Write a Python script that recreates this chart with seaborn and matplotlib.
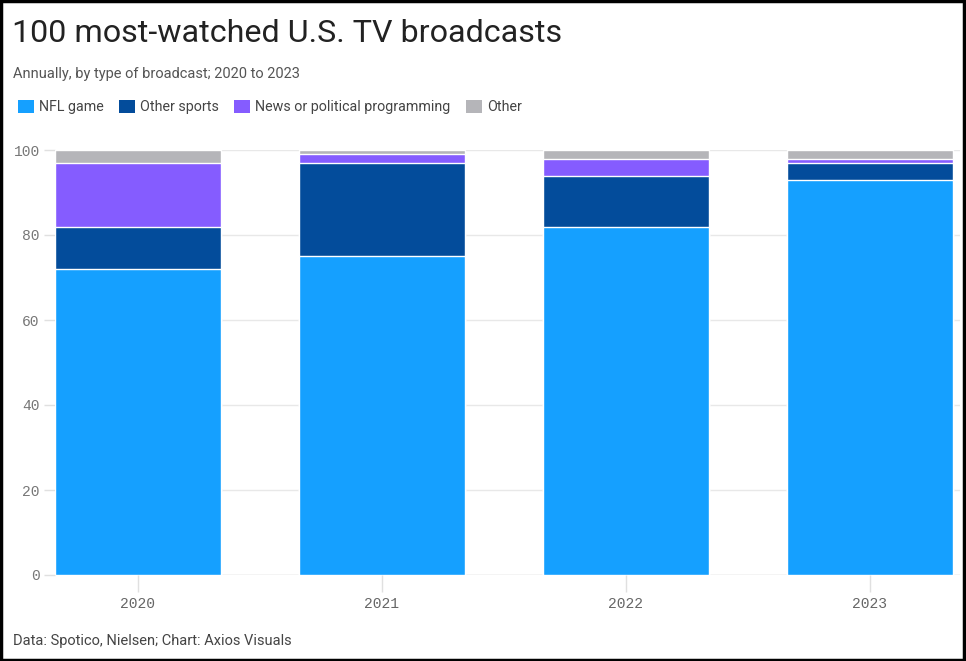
import matplotlib
matplotlib.use("Agg")
import matplotlib.pyplot as plt
import seaborn as sns
import pandas as pd
import numpy as np
from matplotlib.patches import Patch, Rectangle

years = ["2020", "2021", "2022", "2023"]
nfl_game = [72, 75, 82, 93]
other_sports = [10, 22, 12, 4]
news_political = [15, 2, 4, 1]
other = [3, 1, 2, 2]

series_names = ["NFL game", "Other sports", "News or political programming", "Other"]
colors = ["#15a0ff", "#034c9b", "#855cff", "#b5b5b9"]

sns.set_theme(style="white")
plt.rcParams["font.family"] = ["Roboto", "DejaVu Sans"]

df = pd.DataFrame({
    "year": years,
    "NFL game": nfl_game,
    "Other sports": other_sports,
    "News or political programming": news_political,
    "Other": other,
})
cum = df[series_names].cumsum(axis=1)

fig = plt.figure(figsize=(9.66, 6.61), dpi=100)
ax = fig.add_axes([55 / 966, 1 - 575 / 661, (960 - 55) / 966, (575 - 150) / 661])

for name, col in reversed(list(zip(series_names, colors))):
    sns.barplot(data=pd.DataFrame({"year": years, "v": cum[name]}), x="year", y="v",
                color=col, width=0.68, edgecolor="white", linewidth=1.0,
                saturation=1, ax=ax, zorder=3)

ax.set_ylim(0, 100)
ax.set_xlim(-0.34, 3.37)
ax.set_yticks([0, 20, 40, 60, 80, 100])
ax.grid(axis="y", color="#e8e8e8", linewidth=1, zorder=0)
ax.grid(axis="x", visible=False)
for s in ax.spines.values():
    s.set_visible(False)
ax.set_xlabel("")
ax.set_ylabel("")
ax.tick_params(axis="y", length=8, width=1, color="#e0e0e0", pad=3, left=True,
               labelsize=10.5, labelcolor="#777777")
ax.tick_params(axis="x", length=12, width=1, color="#e0e0e0", pad=4, bottom=True,
               labelsize=10.5, labelcolor="#666666")
for lab in ax.get_xticklabels() + ax.get_yticklabels():
    lab.set_fontfamily(["Liberation Mono", "DejaVu Sans Mono"])
ax.axhline(0, color="#e0e0e0", linewidth=1, zorder=2)

fig.text(12 / 966, 1 - 34 / 661, "100 most-watched U.S. TV broadcasts", fontsize=23.2,
         color="#222222", va="center", ha="left", family=["Roboto", "DejaVu Sans"])
fig.text(13 / 966, 1 - 74 / 661, "Annually, by type of broadcast; 2020 to 2023", fontsize=10.5,
         color="#555555", va="center", ha="left")
fig.text(13 / 966, 1 - 641 / 661, "Data: Spotico, Nielsen; Chart: Axios Visuals", fontsize=10.5,
         color="#444444", va="center", ha="left")

handles = [Patch(facecolor=c, edgecolor="none") for c in colors]
leg = fig.legend(handles, series_names, loc="center left", bbox_to_anchor=(5 / 966, 1 - 107 / 661),
                 ncol=4, frameon=False, fontsize=10.3, handlelength=1.1, handleheight=1.1,
                 handletextpad=0.35, columnspacing=1.1, labelcolor="#444444")

fig.patches.append(Rectangle((0.001, 0.001), 0.997, 0.997, transform=fig.transFigure,
                             fill=False, edgecolor="black", linewidth=2.5))

fig.savefig("out.png", dpi=100)
